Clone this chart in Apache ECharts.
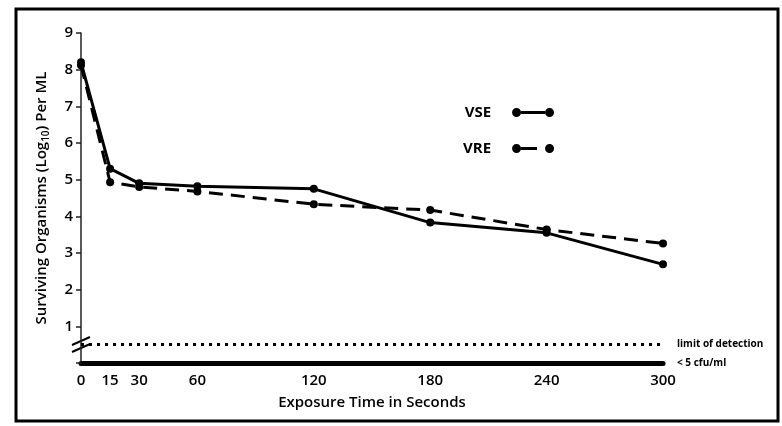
<!DOCTYPE html>
<html>
<head>
<meta charset="utf-8">
<script src="https://cdn.jsdelivr.net/npm/echarts@6/dist/echarts.min.js"></script>
<style>
  html, body { margin: 0; padding: 0; background: #fff; }
  #chart { width: 782px; height: 426px; }
</style>
</head>
<body>
<div id="chart"></div>
<script>
// exposure time (seconds) and surviving organisms (log10 per ml)
var seconds = [0, 15, 30, 60, 120, 180, 240, 300]
var vse = [8.2, 5.3, 4.9, 4.82, 4.75, 3.83, 3.55, 2.69]
var vre = [8.12, 4.93, 4.8, 4.68, 4.33, 4.17, 3.64, 3.26]
var xTicks = [0, 15, 30, 60, 120, 180, 240, 300]
var detectionLimit = 0.52

var font = 'Open Sans'

function pairs (xs, ys) {
  return xs.map(function (x, i) { return [x, ys[i]] })
}

// legend icons: line with a dot at each end
var iconVSE = 'path://M0,4.5a4.5,4.5 0 1,0 9,0a4.5,4.5 0 1,0 -9,0z M9,3h24v3h-24z M33,4.5a4.5,4.5 0 1,0 9,0a4.5,4.5 0 1,0 -9,0z'
var iconVRE = 'path://M0,4.5a4.5,4.5 0 1,0 9,0a4.5,4.5 0 1,0 -9,0z M9,3h16v3h-16z M33,4.5a4.5,4.5 0 1,0 9,0a4.5,4.5 0 1,0 -9,0z'

var myChart = echarts.init(document.getElementById('chart'))
myChart.setOption({
  backgroundColor: '#fff',
  textStyle: { fontFamily: font },
  grid: { left: 81, right: 119, top: 33, bottom: 63 },
  legend: {
    orient: 'vertical',
    left: 458,
    top: 100,
    align: 'right',
    itemWidth: 42,
    itemHeight: 9,
    itemGap: 21,
    itemStyle: { borderWidth: 0 },
    textStyle: { fontSize: 15, fontWeight: 'bold', color: '#000', padding: [0, 16, 0, 0] },
    data: [{ name: 'VSE', icon: iconVSE }, { name: 'VRE', icon: iconVRE }]
  },
  xAxis: {
    type: 'value',
    min: 0,
    max: 300,
    name: 'Exposure Time in Seconds',
    nameLocation: 'middle',
    nameGap: 32,
    nameTextStyle: { fontSize: 15, fontWeight: 600, color: '#000' },
    axisLine: { lineStyle: { color: '#000', width: 5 } },
    axisTick: { show: false },
    splitLine: { show: false },
    axisLabel: { customValues: xTicks, fontSize: 15, fontWeight: 600, color: '#000', margin: 10 }
  },
  yAxis: {
    type: 'value',
    min: 0,
    max: 9,
    interval: 1,
    name: 'Surviving Organisms (Log{sub|10}) Per ML',
    nameLocation: 'middle',
    nameGap: 30,
    nameTextStyle: {
      fontSize: 15,
      fontWeight: 600,
      color: '#000',
      rich: { sub: { fontSize: 10, fontWeight: 600, color: '#000', padding: [8, 0, 0, 0] } }
    },
    axisLine: { show: true, lineStyle: { color: '#222', width: 1.5 } },
    axisTick: { show: true, length: 5, lineStyle: { color: '#222', width: 1.5 } },
    splitLine: { show: false },
    axisLabel: {
      fontSize: 15,
      fontWeight: 600,
      color: '#000',
      margin: 8,
      formatter: function (v) { return v === 0 ? '' : v }
    }
  },
  series: [
    {
      name: 'VSE',
      type: 'line',
      data: pairs(seconds, vse),
      symbol: 'circle',
      symbolSize: 8,
      lineStyle: { color: '#000', width: 3 },
      itemStyle: { color: '#000' },
      z: 3
    },
    {
      name: 'VRE',
      type: 'line',
      data: pairs(seconds, vre),
      symbol: 'circle',
      symbolSize: 8,
      lineStyle: { color: '#000', width: 3, type: [14, 8] },
      itemStyle: { color: '#000' },
      z: 3
    },
    {
      name: 'limit',
      type: 'line',
      data: [],
      markLine: {
        silent: true,
        symbol: 'none',
        data: [
          {
            yAxis: detectionLimit,
            lineStyle: { color: '#000', width: 3, type: [3, 5] },
            label: { formatter: 'limit of detection' }
          },
          {
            yAxis: 0,
            lineStyle: { color: 'rgba(0,0,0,0)', width: 1 },
            label: { formatter: '< 5 cfu/ml' }
          }
        ],
        label: {
          show: true,
          position: 'end',
          distance: 14,
          fontSize: 10,
          fontWeight: 'bold',
          color: '#000',
          fontFamily: font
        }
      }
    }
  ],
  graphic: [
    {
      type: 'rect',
      shape: { x: 16, y: 9, width: 762, height: 412 },
      style: { fill: null, stroke: '#000', lineWidth: 3 }
    },
    {
      type: 'line',
      shape: { x1: 72, y1: 345, x2: 90, y2: 337 },
      style: { stroke: '#000', lineWidth: 2 }
    },
    {
      type: 'line',
      shape: { x1: 72, y1: 352, x2: 90, y2: 344 },
      style: { stroke: '#000', lineWidth: 2 }
    }
  ]
})
</script>
</body>
</html>
